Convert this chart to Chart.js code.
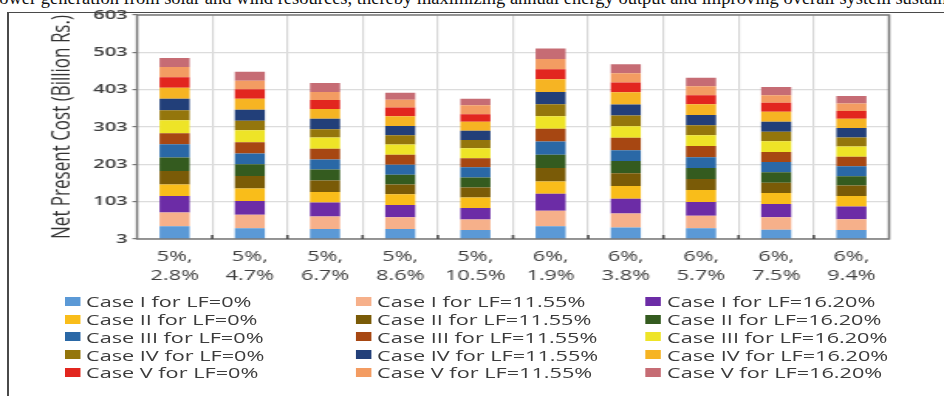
<!DOCTYPE html>
<html>
<head>
<meta charset="utf-8">
<script src="https://cdn.jsdelivr.net/npm/chart.js@4/dist/chart.umd.min.js"></script>
<style>
  html, body { margin: 0; padding: 0; background: #fff; }
  body { width: 944px; height: 396px; position: relative; overflow: hidden; }
  #lead {
    position: absolute; left: -10px; top: -12px;
    font: 18.5px "Liberation Serif", "Times New Roman", serif;
    line-height: 20px; white-space: nowrap; color: #111;
  }
  #frame {
    position: absolute; left: 7px; top: 12px; width: 1000px; height: 500px;
    border-left: 2px solid #4a4a4a; border-top: 1.5px solid #4a4a4a;
  }
  #stage {
    position: absolute; left: 0; top: 0; height: 396px;
    transform-origin: 0 0;
  }
  #stage canvas { position: absolute; left: 0; top: 0; }
  #legend { position: absolute; left: 0; top: 0; }
  .item {
    position: absolute; height: 18px; line-height: 18px;
    font: 14px "Open Sans", sans-serif; color: #3c3c3c; white-space: nowrap;
  }
  .item i {
    position: absolute; top: 4.5px; width: 10px; height: 9px;
  }
  .item span { position: absolute; left: 14px; top: 0; }
</style>
</head>
<body>
<div id="lead">power generation from solar and wind resources, thereby maximizing annual energy output and improving overall system sustainability.</div>
<div id="frame"></div>
<div id="stage">
  <canvas id="npc" height="290"></canvas>
  <div id="legend"></div>
</div>
<script>
// Scenario labels: first line / second line of each category
const categories = [
  ["5%,", "2.8%"], ["5%,", "4.7%"], ["5%,", "6.7%"], ["5%,", "8.6%"], ["5%,", "10.5%"],
  ["6%,", "1.9%"], ["6%,", "3.8%"], ["6%,", "5.7%"], ["6%,", "7.5%"], ["6%,", "9.4%"]
];

// Net present cost contributions (Billion Rs.), stacked bottom to top
const caseI_LF0      = [37, 32, 30, 30, 27, 37, 34, 32, 28, 27];
const caseI_LF1155   = [37, 36, 33, 31, 28, 42, 37, 33, 33, 29];
const caseI_LF1620   = [44, 37, 38, 33, 31, 45, 40, 37, 36, 34];
const caseII_LF0     = [31, 33, 28, 29, 28, 33, 34, 32, 29, 28];
const caseII_LF1155  = [36, 34, 31, 26, 27, 36, 34, 30, 28, 28];
const caseII_LF1620  = [36, 31, 29, 26, 27, 36, 33, 29, 28, 25];
const caseIII_LF0    = [36, 29, 27, 27, 27, 35, 29, 29, 27, 27];
const caseIII_LF1155 = [29, 30, 29, 27, 24, 34, 33, 30, 27, 25];
const caseIII_LF1620 = [35, 32, 30, 27, 27, 34, 31, 29, 29, 28];
const caseIV_LF0     = [27, 26, 22, 25, 22, 32, 29, 27, 25, 24];
const caseIV_LF1155  = [31, 29, 28, 25, 25, 33, 29, 27, 27, 25];
const caseIV_LF1620  = [29, 30, 26, 26, 24, 34, 33, 29, 27, 25];
const caseV_LF0      = [28, 25, 24, 23, 20, 27, 26, 24, 24, 21];
const caseV_LF1155   = [28, 23, 22, 21, 24, 27, 25, 24, 20, 20];
const caseV_LF1620   = [24, 24, 24, 19, 18, 28, 24, 23, 22, 20];

const caseNames = ["Case I", "Case II", "Case III", "Case IV", "Case V"];
const lfNames = ["LF=0%", "LF=11.55%", "LF=16.20%"];
const yTicks = [3, 103, 203, 303, 403, 503, 603];

const seriesValues = [
  caseI_LF0, caseI_LF1155, caseI_LF1620,
  caseII_LF0, caseII_LF1155, caseII_LF1620,
  caseIII_LF0, caseIII_LF1155, caseIII_LF1620,
  caseIV_LF0, caseIV_LF1155, caseIV_LF1620,
  caseV_LF0, caseV_LF1155, caseV_LF1620
];
const seriesColors = [
  "#5b99d6", "#f6b08a", "#6c2ca6",
  "#f9bd1a", "#7a5b07", "#345b1f",
  "#2a68a6", "#a74712", "#eee427",
  "#94760c", "#223f79", "#f6b423",
  "#e2261f", "#f39c62", "#c66c74"
];

// The figure is laid out on a narrower stage that is then widened horizontally.
const PAGE_W = 944;
const STAGE_W = 610;
const SX = PAGE_W / STAGE_W;
const px = v => v / SX;           // page x -> stage x

const stage = document.getElementById('stage');
stage.style.width = STAGE_W + 'px';
stage.style.transform = `scaleX(${SX})`;
const canvas = document.getElementById('npc');
canvas.width = STAGE_W;

const PLOT_LEFT = 137, PLOT_RIGHT = 889, PLOT_TOP = 15, PLOT_BOTTOM = 239;
const AXIS_PAD_LEFT = 27;

const datasets = seriesValues.map((vals, i) => ({
  label: `${caseNames[Math.floor(i / 3)]} for ${lfNames[i % 3]}`,
  data: vals,
  backgroundColor: seriesColors[i],
  borderWidth: 0,
  stack: 'npc'
}));

const plotFrame = {
  id: 'plotFrame',
  afterDatasetsDraw(chart) {
    const { ctx, chartArea: a, scales: { x } } = chart;
    ctx.save();
    ctx.strokeStyle = '#7a7a7a';
    ctx.lineWidth = 1.5;
    ctx.strokeRect(a.left, a.top, a.right - a.left, a.bottom - a.top);
    ctx.fillStyle = '#4d4d4d';
    for (let i = 1; i < x.ticks.length; i++) {
      const bx = (x.getPixelForTick(i - 1) + x.getPixelForTick(i)) / 2;
      ctx.fillRect(bx - 0.8, a.bottom - 4, 1.6, 4);
    }
    ctx.restore();
  }
};

new Chart(canvas, {
  type: 'bar',
  data: { labels: categories, datasets },
  options: {
    responsive: false,
    animation: false,
    devicePixelRatio: 1,
    layout: {
      padding: {
        left: AXIS_PAD_LEFT,
        right: px(PAGE_W - PLOT_RIGHT),
        top: PLOT_TOP,
        bottom: 0
      }
    },
    plugins: { legend: { display: false }, tooltip: { enabled: false } },
    datasets: { bar: { barPercentage: 0.4, categoryPercentage: 1 } },
    scales: {
      x: {
        stacked: true,
        offset: true,
        border: { display: false },
        grid: { color: '#d6d6d6', lineWidth: 1.2, drawTicks: false, offset: true },
        ticks: {
          color: '#404040', padding: 9, maxRotation: 0, autoSkip: false,
          font: { family: 'Open Sans', size: 14, lineHeight: 1.35 }
        },
        afterFit(scale) { scale.height = 290 - PLOT_BOTTOM; }
      },
      y: {
        stacked: true,
        min: yTicks[0],
        max: yTicks[yTicks.length - 1],
        border: { display: false },
        grid: { color: '#dcdcdc', lineWidth: 1.2, tickLength: 3, tickColor: '#777' },
        ticks: {
          stepSize: yTicks[1] - yTicks[0],
          color: '#404040', padding: 3,
          font: { family: 'Open Sans', size: 13, weight: '600' }
        },
        title: {
          display: true,
          text: 'Net Present Cost (Billion Rs.)',
          color: '#333',
          padding: { top: 3, bottom: 0 },
          font: { family: 'Open Sans', size: 17 }
        },
        afterFit(scale) { scale.width = px(PLOT_LEFT) - AXIS_PAD_LEFT; }
      }
    }
  },
  plugins: [plotFrame]
});

// Legend: one column per LF value, one row per case
const legend = document.getElementById('legend');
const colText = [86, 377, 667];
const rowMid = [301, 319, 336.5, 354.5, 372];
datasets.forEach((ds, i) => {
  const row = Math.floor(i / 3), col = i % 3;
  const el = document.createElement('div');
  el.className = 'item';
  el.style.left = (px(colText[col]) - 14) + 'px';
  el.style.top = (rowMid[row] - 9) + 'px';
  const sw = document.createElement('i');
  sw.style.background = ds.backgroundColor;
  const tx = document.createElement('span');
  tx.textContent = ds.label;
  el.appendChild(sw);
  el.appendChild(tx);
  legend.appendChild(el);
});
</script>
</body>
</html>
